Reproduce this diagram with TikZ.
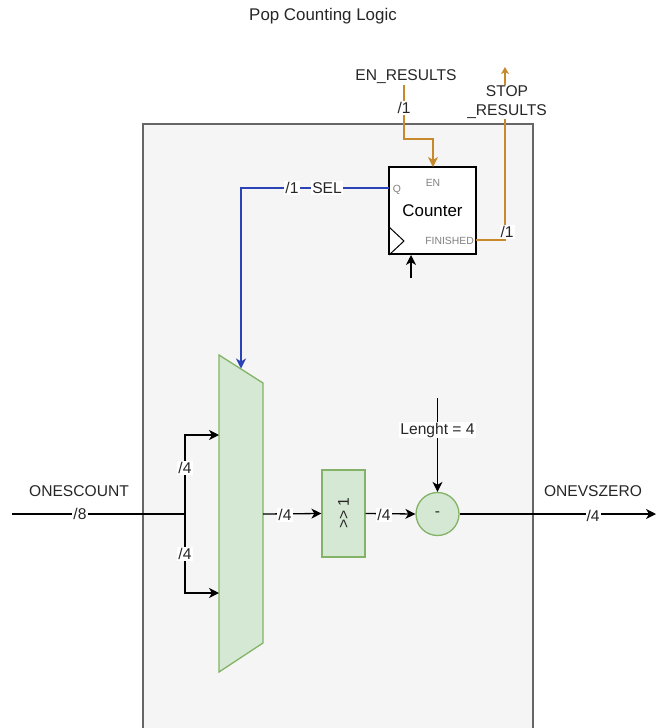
\documentclass[tikz,border=0pt]{standalone}
\usepackage{fontspec}
\setmainfont{Liberation Sans}
\usetikzlibrary{arrows.meta}
\definecolor{boxfill}{HTML}{F5F5F5}
\definecolor{boxline}{HTML}{666666}
\definecolor{gfill}{HTML}{D5E8D4}
\definecolor{gline}{HTML}{82B366}
\definecolor{orng}{HTML}{C7892B}
\definecolor{blu}{HTML}{2A44B8}
\definecolor{graytxt}{HTML}{808080}
\begin{document}
\begin{tikzpicture}[x=1pt,y=-1pt,
  lbl/.style={font=\fontsize{15.6}{19}\selectfont, inner sep=1pt, text=black!85},
  bus/.style={lbl, fill=white},
  small/.style={font=\fontsize{10.4}{12}\selectfont, inner sep=0pt, text=graytxt},
  wire/.style={line width=1.3pt, draw=black},
  arr/.style={wire, -{Stealth[length=10pt,width=10pt,inset=3pt]}},
  greenbox/.style={draw=gline, fill=gfill, line width=1.3pt}]
\useasboundingbox (0,0) rectangle (656,728);
% container
\fill[boxfill] (143,124) rectangle (533,728);
\draw[boxline, line width=1.3pt] (143,728) -- (143,124) -- (533,124) -- (533,728);
% title
\node[font=\fontsize{16.9}{19}\selectfont, text=black!85] (title) at (323,16) {Pop Counting Logic};
% counter
\node[draw, fill=white, line width=1.3pt, minimum width=87, minimum height=87, inner sep=0pt,
      font=\fontsize{16.9}{19}\selectfont] (ctr) at (432.5,210.5) {Counter};
\draw[line width=1pt] (389,227) -- (404,241) -- (389,255);
\node[small] (enlbl) at (433,183) {EN};
\node[small] (qlbl) at (397,190) {Q};
\node[small, anchor=east] (finlbl) at (474,241) {FINISHED};
\coordinate (qport) at (389,188);
\coordinate (enport) at (433,167);
\coordinate (finport) at (476,240);
\coordinate (clkport) at (411,255);
\coordinate (clkin) at (411,278);
\draw[arr] (clkin) -- (clkport);
% mux
\draw[greenbox] (219,355) -- (263,383) -- (263,643) -- (219,672) -- cycle;
\coordinate (muxsel) at (241,368.5);
\coordinate (muxin1) at (219,435);
\coordinate (muxin2) at (219,593);
\coordinate (muxout) at (263,514);
% shift and subtract
\node[greenbox, minimum width=43, minimum height=87, inner sep=0pt] (shift) at (343.5,513.5) {};
\node[lbl, rotate=90] (shifttxt) at (343.5,513) {>{}> 1};
\node[greenbox, circle, minimum size=43, inner sep=0pt, lbl] (sub) at (437.5,514) {-};
% EN_RESULTS
\node[lbl] (enres) at (406,77) {EN\_RESULTS};
\draw[line width=1.3pt, draw=orng, -{Stealth[length=10pt,width=10pt,inset=3pt]}]
  (enres.south -| 404,0) -- (404,139) -- (433,139) -- (enport);
\node[bus] (en1) at (404,108) {/1};
% STOP_RESULTS
\coordinate (stoptop) at (505,67);
\draw[line width=1.3pt, draw=orng, -{Stealth[length=7pt,width=8pt,inset=2pt]}]
  (finport) -- (505,240) -- (stoptop);
\node[lbl, fill=white, align=center] (stopres) at (507,102) {STOP\\\_RESULTS};
\node[bus] (stop1) at (507,232) {/1};
% SEL
\draw[line width=1.3pt, draw=blu, -{Stealth[length=10pt,width=10pt,inset=3pt]}]
  (qport) -- (241,188) -- (muxsel);
\node[bus] (sel1) at (292,188) {/1};
\node[bus] (sellbl) at (327,188) {SEL};
% ONESCOUNT input
\coordinate (inL) at (12,514);
\coordinate (split) at (185,514);
\draw[wire] (inL) -- (split);
\draw[arr] (split) -- (185,435) -- (muxin1);
\draw[arr] (split) -- (185,593) -- (muxin2);
\node[lbl] (onescount) at (79,491) {ONESCOUNT};
\node[bus] (in8) at (80,514) {/8};
\node[bus] (in4a) at (185,468) {/4};
\node[bus] (in4b) at (185,554) {/4};
% mux -> shift -> sub -> out
\draw[arr] (muxout) -- (shift.west);
\node[bus] (m4) at (285,515) {/4};
\draw[arr] (shift.east) -- (sub.west);
\node[bus] (s4) at (384,515) {/4};
\coordinate (lentop) at (437.5,398);
\draw[arr] (lentop) -- (sub.north);
\node[bus] (lenlbl) at (437.5,430) {Lenght = 4};
\coordinate (outR) at (656,514);
\draw[arr] (sub.east) -- (outR);
\node[lbl] (onevszero) at (593,491) {ONEVSZERO};
\node[bus] (o4) at (593,516) {/4};
\end{tikzpicture}
\end{document}
